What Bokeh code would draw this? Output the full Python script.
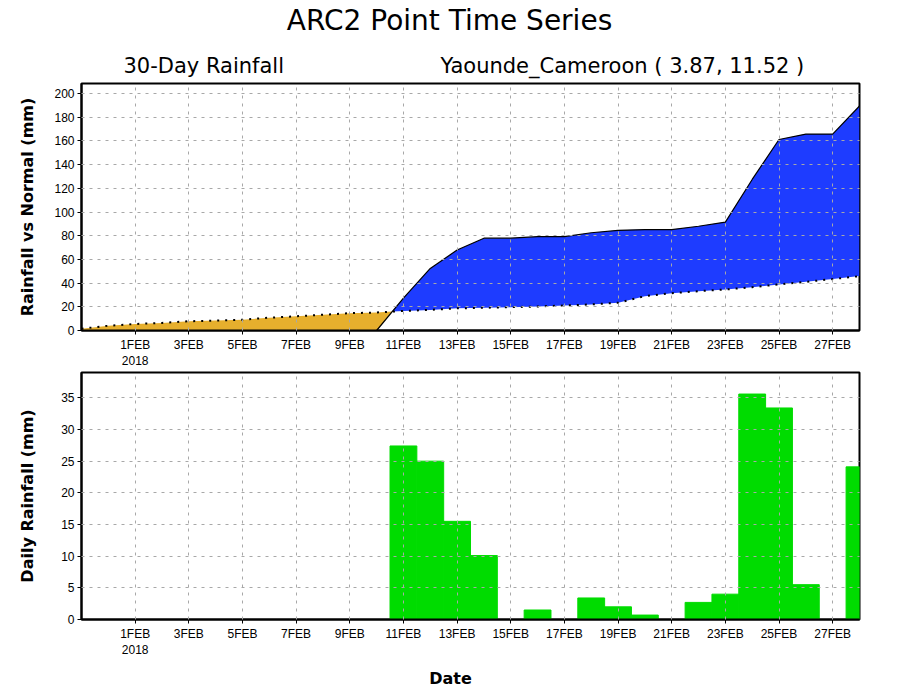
import numpy as np
import pandas as pd
from bokeh.plotting import figure
from bokeh.layouts import column
from bokeh.models import Range1d, FixedTicker
from bokeh.core.properties import value
from bokeh.embed import file_html
from bokeh.resources import INLINE

# ---------------- data ----------------
dates = pd.date_range("2018-01-30", "2018-02-28", freq="D")
daily_rain = [0, 0, 0, 0, 0, 0, 0, 0, 0, 0, 0, 0,
              27.4, 25.0, 15.5, 10.1, 0, 1.5, 0, 3.4, 2.0, 0.7, 0, 2.7, 4.0,
              35.6, 33.4, 5.5, 0, 24.1]
cum_rain = [0, 0, 0, 0, 0, 0, 0, 0, 0, 0, 0, 0,
            27.4, 52.4, 67.9, 77.9, 77.9, 79.2, 79.2, 82.5, 84.6, 85.2, 85.2,
            88.0, 91.5, 127.5, 161.2, 165.8, 165.8, 189.5]
cum_normal = [1.5, 4.0, 5.5, 6.4, 7.8, 8.4, 9.1, 10.8, 12.0, 13.3, 14.6, 15.2,
              16.5, 17.4, 18.7, 19.2, 19.7, 20.3, 21.1, 22.0, 23.4, 29.0, 31.5,
              33.2, 34.6, 36.6, 38.9, 41.1, 43.4, 45.9]
tick_days = [1, 3, 5, 7, 9, 11, 13, 15, 17, 19, 21, 23, 25, 27]
tick_labels = ["1FEB\n2018", "3FEB", "5FEB", "7FEB", "9FEB", "11FEB", "13FEB",
               "15FEB", "17FEB", "19FEB", "21FEB", "23FEB", "25FEB", "27FEB"]
top_yticks = [0, 20, 40, 60, 80, 100, 120, 140, 160, 180, 200]
bot_yticks = [0, 5, 10, 15, 20, 25, 30, 35]

title_text = "ARC2 Point Time Series"
subtitle_left = "30-Day Rainfall"
subtitle_right = "Yaounde_Cameroon ( 3.87, 11.52 )"
xlabel_text = "Date"

ORANGE = "#E6AF2D"
BLUE = "#1E3CFF"
GREEN = "#00DC00"
GRIDC = "#A8A8A8"
TICKFONT = "Liberation Sans"
LABFONT = "DejaVu Sans"

BL, FW, BR = 81, 778, 25
x = list((dates - pd.Timestamp("2018-02-01")).days + 1)

# insert crossing points between rainfall and normal so fills switch cleanly
xs, a, n = [], [], []
for i in range(len(x)):
    if i > 0:
        d0 = cum_rain[i - 1] - cum_normal[i - 1]
        d1 = cum_rain[i] - cum_normal[i]
        if d0 * d1 < 0:
            t = d0 / (d0 - d1)
            xc = x[i - 1] + t * (x[i] - x[i - 1])
            yc = cum_normal[i - 1] + t * (cum_normal[i] - cum_normal[i - 1])
            xs.append(xc); a.append(yc); n.append(yc)
    xs.append(x[i]); a.append(cum_rain[i]); n.append(cum_normal[i])
a = np.array(a); n = np.array(n)


def style(p, yticks):
    p.outline_line_color = "black"
    p.outline_line_width = 2
    p.xaxis.ticker = FixedTicker(ticks=tick_days)
    p.xaxis.major_label_overrides = {d: l for d, l in zip(tick_days, tick_labels)}
    p.yaxis.ticker = FixedTicker(ticks=yticks)
    for ax in p.axis:
        ax.axis_line_width = 2
        ax.axis_line_color = "black"
        ax.major_tick_out = 4
        ax.major_tick_in = 0
        ax.major_tick_line_width = 1
        ax.minor_tick_line_color = None
        ax.major_label_text_font = TICKFONT
        ax.major_label_text_font_size = "12px"
        ax.major_label_text_color = "black"
        ax.major_label_standoff = 3
        ax.axis_label_text_font = LABFONT
        ax.axis_label_text_font_size = "16px"
        ax.axis_label_text_font_style = "bold"
        ax.axis_label_text_color = "black"
    for g in p.grid:
        g.grid_line_color = GRIDC
        g.grid_line_dash = "3 5"
        g.grid_line_width = 1
        g.level = "overlay"
    p.background_fill_color = "white"
    p.border_fill_color = "white"


def text_strip(h):
    f = figure(frame_width=FW, frame_height=h, min_border_left=BL, min_border_right=BR,
               min_border_top=0, min_border_bottom=0,
               x_range=Range1d(BL, BL + FW), y_range=Range1d(0, h),
               x_axis_type=None, y_axis_type=None, output_backend="svg",
               toolbar_location=None)
    f.outline_line_color = None
    f.grid.visible = False
    f.background_fill_color = "white"
    f.border_fill_color = "white"
    return f


# ---------------- header (titles) ----------------
HH = 80
ph = text_strip(HH)
ph.text(x=[449], y=[HH - 20], text=[title_text], text_align="center",
        text_baseline="middle", text_font=value(LABFONT),
        text_font_size=value("28px"), text_color="black")
ph.text(x=[123, 440], y=[HH - 65, HH - 65], text=[subtitle_left, subtitle_right],
        text_align="left", text_baseline="middle", text_font=value(LABFONT),
        text_font_size=value("21px"), text_color="black")

# ---------------- top panel ----------------
p1 = figure(frame_width=FW, frame_height=247, min_border_left=BL, min_border_right=BR,
            min_border_top=3, min_border_bottom=40, x_range=Range1d(-1, 28),
            y_range=Range1d(0, 208.5), output_backend="svg", toolbar_location=None)
p1.varea(x=xs, y1=np.minimum(a, n), y2=n, fill_color=ORANGE)
p1.varea(x=xs, y1=n, y2=np.maximum(a, n), fill_color=BLUE)
p1.line(x, cum_rain, line_color="black", line_width=1.2)
p1.line(x, cum_normal, line_color="black", line_width=2, line_dash="2 6")
style(p1, top_yticks)
p1.yaxis.axis_label = "Rainfall vs Normal (mm)"
p1.yaxis.axis_label_standoff = 14

# ---------------- bottom panel ----------------
p2 = figure(frame_width=FW, frame_height=247, min_border_left=BL, min_border_right=BR,
            min_border_top=1, min_border_bottom=38, x_range=Range1d(-1, 28),
            y_range=Range1d(0, 39), output_backend="svg", toolbar_location=None)
p2.vbar(x=x, top=daily_rain, bottom=0, width=1.0, fill_color=GREEN,
        line_color=GREEN, line_width=1)
style(p2, bot_yticks)
p2.yaxis.axis_label = "Daily Rainfall (mm)"
p2.yaxis.axis_label_standoff = 21

# ---------------- footer (x label) ----------------
FH = 28
pf = text_strip(FH)
pf.text(x=[450], y=[FH - 18], text=[xlabel_text], text_align="center",
        text_baseline="middle", text_font=value(LABFONT),
        text_font_size=value("16px"), text_font_style="bold", text_color="black")

layout = column(ph, p1, p2, pf, spacing=0)
open("out.html", "w").write(file_html(layout, INLINE))
